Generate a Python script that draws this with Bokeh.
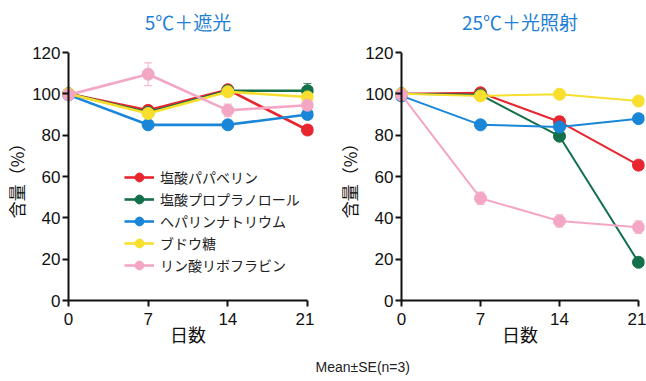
from bokeh.plotting import figure
from bokeh.models import (Range1d, ColumnDataSource, Whisker, TeeHead, Legend, LegendItem, Title,
                          FixedTicker, Span, LinearAxis)
from bokeh.layouts import row
from bokeh.embed import file_html
from bokeh.resources import INLINE

days = [0, 7, 14, 21]
names = ["塩酸パパベリン", "塩酸プロプラノロール", "ヘパリンナトリウム", "ブドウ糖", "リン酸リボフラビン"]
colors = ["#e8262f", "#14704a", "#1a86d8", "#f8df2e", "#f4a7c5"]

# 5℃＋遮光
pap_5 = [100, 92, 102, 82.5]
pro_5 = [100, 91, 101.5, 101.5]
hep_5 = [99.5, 85, 85, 90]
glu_5 = [100, 90.5, 101, 98.5]
rib_5 = [99.5, 109.5, 92, 94.5]
pap_5_se = [0.5, 2, 1.5, 2]
pro_5_se = [0.5, 1, 2, 3.5]
hep_5_se = [0.5, 2, 2, 2]
glu_5_se = [0.5, 1, 1, 1]
rib_5_se = [1, 5.5, 3, 2]

# 25℃＋光照射
pap_25 = [100, 100.5, 86.5, 65.5]
pro_25 = [100, 99.5, 79.5, 18.5]
hep_25 = [99, 85, 84, 88]
glu_25 = [100, 99, 99.8, 96.5]
rib_25 = [99.5, 49.5, 38.5, 35.5]
pap_25_se = [0.5, 1, 2.5, 1.5]
pro_25_se = [0.5, 1, 1, 1]
hep_25_se = [0.5, 1, 1, 1]
glu_25_se = [0.5, 0.5, 0.5, 0.5]
rib_25_se = [1, 3, 3, 3]

x_ticks = [0, 7, 14, 21]
y_ticks = [0, 20, 40, 60, 80, 100, 120]

JP = "Noto Sans CJK JP"
NUM = "Liberation Sans"
AX = "#111111"


def make_panel(title, series, ses, width, bl, br, xr, show_legend, line_w):
    p = figure(width=width, height=381, output_backend="svg", toolbar_location=None,
               x_range=Range1d(*xr), y_range=Range1d(0, 120),
               min_border_left=bl, min_border_right=br, min_border_top=52, min_border_bottom=79)
    p.outline_line_color = None
    p.xgrid.visible = False
    p.ygrid.visible = False

    xa = p.below[0]
    ya = p.left[0]
    for ax in (xa, ya):
        ax.axis_line_width = 2
        ax.axis_line_color = AX
        ax.major_tick_line_width = 2
        ax.major_tick_line_color = AX
        ax.minor_tick_line_color = None
        ax.major_label_text_font = NUM
        ax.major_label_text_font_size = "17px"
        ax.major_label_text_color = AX
        ax.axis_label_text_font = JP
        ax.axis_label_text_font_size = "18px"
        ax.axis_label_text_font_style = "normal"
        ax.axis_label_text_color = AX
    xa.major_tick_out = 6
    xa.major_tick_in = 0
    ya.major_tick_out = 0
    ya.major_tick_in = 6
    ya.axis_line_color = None
    xa.ticker = FixedTicker(ticks=x_ticks)
    ya.ticker = FixedTicker(ticks=y_ticks)
    xa.bounds = (0, 21)
    xa.axis_label = "日数"
    ya.axis_label = "含量（%）"
    ya.axis_label_text_font_size = "17px"
    xa.major_label_standoff = 6
    xa.axis_label_standoff = -7
    ya.major_label_standoff = 2
    ya.axis_label_standoff = 0
    p.add_layout(Span(location=0, dimension="height", line_color=AX, line_width=2))

    # panel title, drawn as the label of an empty axis above the frame
    top = LinearAxis(ticker=FixedTicker(ticks=[]), axis_label=title,
                     axis_line_color=None, major_tick_line_color=None, minor_tick_line_color=None,
                     major_tick_out=0, major_tick_in=0, major_label_standoff=0,
                     major_label_text_font_size="0px", axis_label_standoff=18,
                     axis_label_text_font=JP, axis_label_text_font_size="19px",
                     axis_label_text_font_style="normal", axis_label_text_color="#1f7fd4")
    p.add_layout(top, "above")

    items = []
    for vals, se, c, name in zip(series, ses, colors, names):
        src = ColumnDataSource(dict(x=days, y=vals,
                                    upper=[v + s for v, s in zip(vals, se)],
                                    lower=[v - s for v, s in zip(vals, se)]))
        w = Whisker(source=src, base="x", upper="upper", lower="lower",
                    line_color=c, line_alpha=0.75, line_width=1.2,
                    upper_head=TeeHead(size=8, line_color=c, line_alpha=0.75, line_width=1.2),
                    lower_head=TeeHead(size=8, line_color=c, line_alpha=0.75, line_width=1.2))
        w.level = "underlay"
        p.add_layout(w)
        lr = p.line("x", "y", source=src, line_color=c, line_width=line_w)
        sr = p.scatter("x", "y", source=src, size=12, fill_color=c, line_color=c)
        items.append(LegendItem(label=name, renderers=[lr, sr]))
    if show_legend:
        leg = Legend(items=items, location=(62, 24), background_fill_alpha=0,
                     border_line_color=None, padding=0, margin=0, spacing=0,
                     glyph_width=30, glyph_height=22, label_height=22,
                     label_standoff=6, label_text_font=JP, label_text_font_size="14px",
                     label_text_color="#222222")
        p.add_layout(leg, "center")
    return p


p1 = make_panel("5℃＋遮光", [pap_5, pro_5, hep_5, glu_5, rib_5],
                [pap_5_se, pro_5_se, hep_5_se, glu_5_se, rib_5_se],
                314, 62, 1, (-0.527, 21.527), True, 2.6)
p2 = make_panel("25℃＋光照射", [pap_25, pro_25, hep_25, glu_25, rib_25],
                [pap_25_se, pro_25_se, hep_25_se, glu_25_se, rib_25_se],
                332, 81, 2, (-0.531, 21.531), False, 2)

note = Title(text="Mean±SE(n=3)", align="left", offset=-80, standoff=14,
             text_font=NUM, text_font_size="14px", text_font_style="normal",
             text_color="#222222")
p2.add_layout(note, "below")

layout = row(p1, p2)
open("out.html", "w").write(file_html(layout, INLINE))
